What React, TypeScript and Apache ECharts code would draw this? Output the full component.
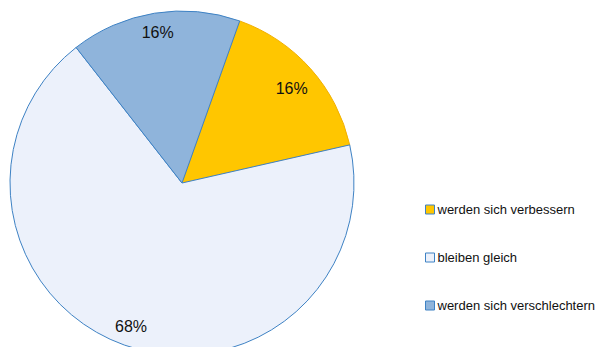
import React, { useEffect, useRef } from "react";
import * as echarts from "echarts";

const categories = ["werden sich verbessern", "bleiben gleich", "werden sich verschlechtern"];
const values = [16, 68, 16];
const fills = ["#FFC600", "#ECF1FB", "#8FB4DB"];
const borders = ["#F2B000", "#3E82C4", "#3E82C4"];

export default function App() {
  const ref = useRef<HTMLDivElement>(null);
  useEffect(() => {
    document.body.style.margin = "0";
    const chart = echarts.init(ref.current!, null, { renderer: "svg" });
    const mainData = categories.map((name, i) => ({
      name,
      value: values[i],
      itemStyle: { color: fills[i], borderColor: borders[i], borderWidth: 1 },
    }));
    const labelData = categories.map((name, i) => ({ name, value: values[i] }));
    chart.setOption({
      animation: false,
      backgroundColor: "#ffffff",
      legend: {
        orient: "vertical",
        left: 420,
        top: 198,
        itemWidth: 9,
        itemHeight: 9,
        itemGap: 35,
        icon: "rect",
        data: categories.map((name, i) => ({
          name,
          itemStyle: { color: fills[i], borderColor: "#3E82C4", borderWidth: 1 },
        })),
        textStyle: {
          fontFamily: "Liberation Sans, Arial, sans-serif",
          fontSize: 13,
          color: "#111",
          padding: [0, 0, 0, -2],
        },
        selectedMode: false,
      },
      series: [
        {
          type: "pie",
          center: [182, 183],
          radius: [0, 172],
          startAngle: 70.4,
          clockwise: true,
          label: { show: false },
          labelLine: { show: false },
          silent: true,
          data: mainData,
        },
        {
          type: "pie",
          center: [182, 183],
          radius: [126, 172],
          startAngle: 70.4,
          clockwise: true,
          itemStyle: { color: "transparent", borderWidth: 0 },
          label: {
            show: true,
            position: "inside",
            formatter: (p: any) => `${Math.round(p.percent)}%`,
            fontFamily: "Liberation Sans, Arial, sans-serif",
            fontSize: 16,
            color: "#111",
          },
          labelLayout: (p: any) => (p.dataIndex === 0 ? { dx: -4, dy: 6 } : {}),
          labelLine: { show: false },
          silent: true,
          legendHoverLink: false,
          data: labelData,
        },
      ],
    });
    return () => chart.dispose();
  }, []);
  return <div ref={ref} style={{ width: 596, height: 347 }} />;
}
